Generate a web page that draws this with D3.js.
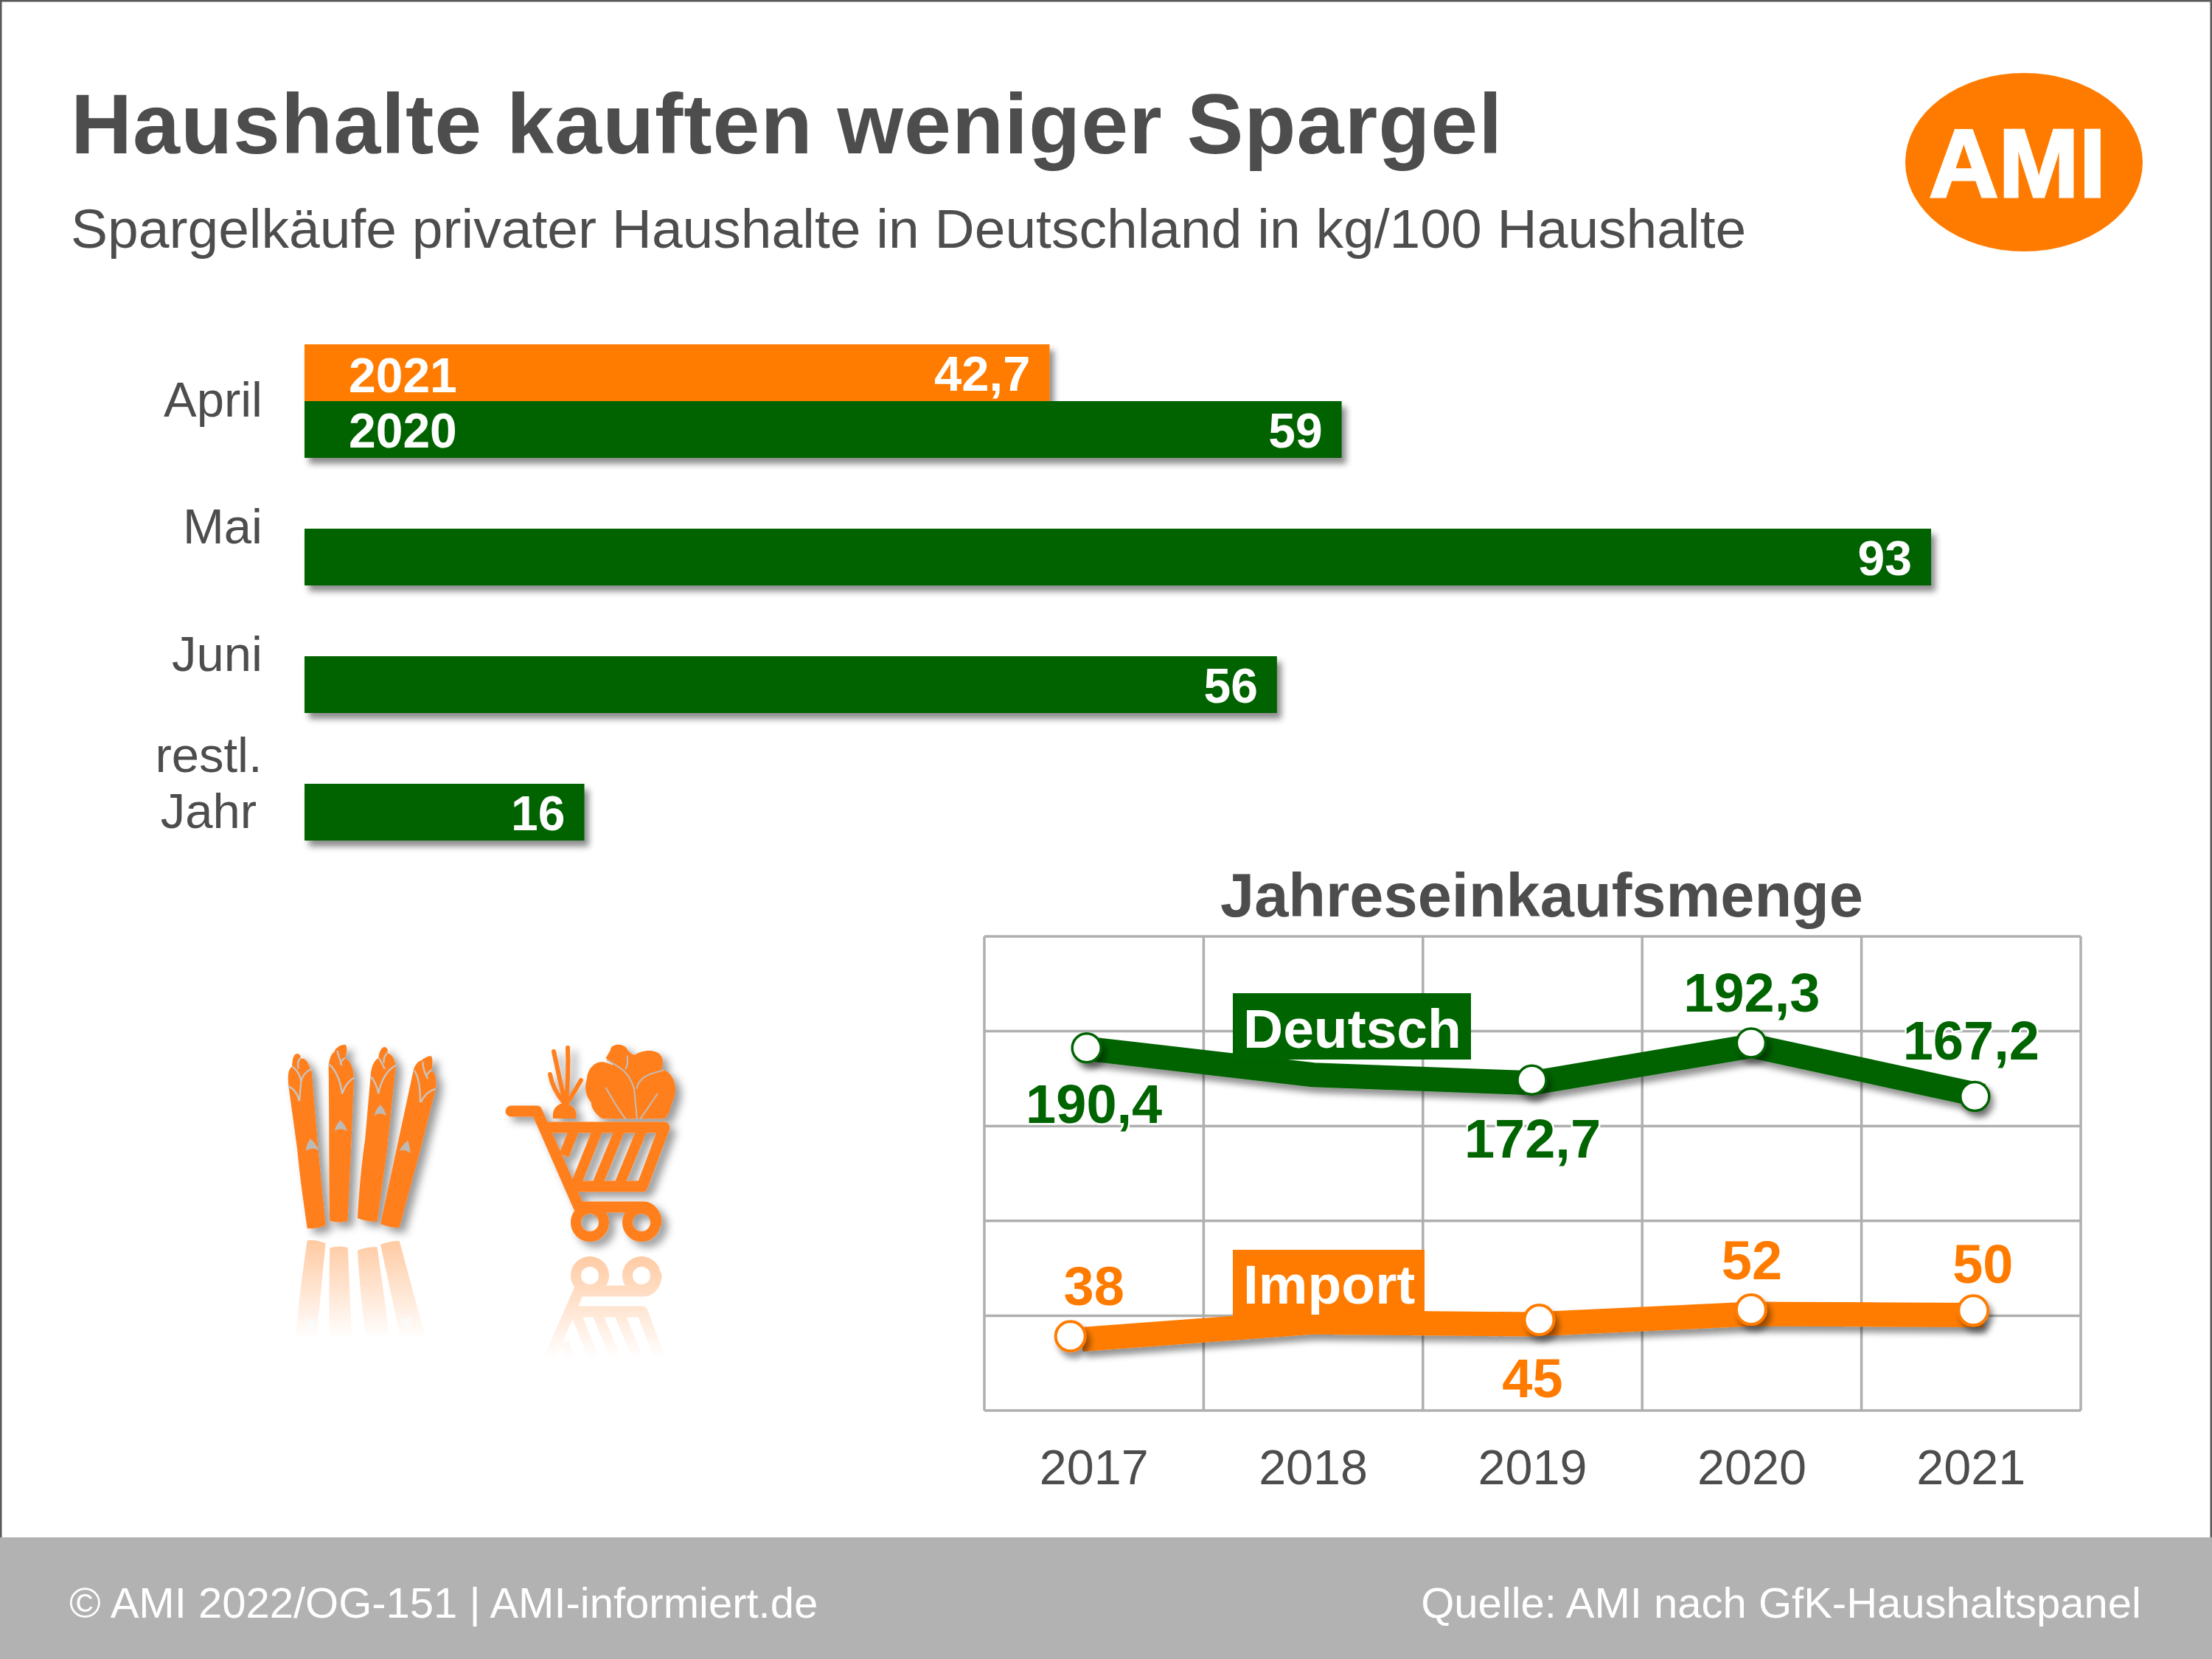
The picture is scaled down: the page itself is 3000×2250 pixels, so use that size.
<!DOCTYPE html>
<html>
<head>
<meta charset="utf-8">
<script src="https://cdn.jsdelivr.net/npm/d3@7"></script>
<style>
	body { margin: 0; background: #fff; }
	svg { display: block; }
	text { font-family: "Liberation Sans", Arial, sans-serif; fill: #4d4d4d; }
	.bold { font-weight: bold; }
</style>
</head>
<body>
<script>
// Data
const months = ["April", "Mai", "Juni", "restl. Jahr"];
// bar lengths, the printed labels are rounded
const values2020 = [59.3, 93, 55.6, 16];
const labels2020 = ["59", "93", "56", "16"];
const values2021 = [42.6];
const labels2021 = ["42,7"];
const barYears = ["2021", "2020"];

const years = ["2017", "2018", "2019", "2020", "2021"];
const deutsch = [190.4, 177, 172.7, 192.3, 167.2];
const deutschLabels = ["190,4", null, "172,7", "192,3", "167,2"];
const importe = [38, 46.6, 45.5, 50.9, 50.4];
const importLabels = ["38", null, "45", "52", "50"];
const gridTicks = [0, 50, 100, 150, 200, 250];

const GREEN = "#006400", ORANGE = "#ff7b00", ICON = "#ff7f1f", GREY = "#4d4d4d", GRID = "#afafaf";

const svg = d3.select("body").append("svg").attr("width", 3000).attr("height", 2250);
const defs = svg.append("defs");

// Shadows, the region is the whole page because a bbox region would clip wide strokes
function shadow(id, dx, dy, blur, op) {
	defs.append("filter").attr("id", id)
		.attr("filterUnits", "userSpaceOnUse")
		.attr("x", 0).attr("y", 0).attr("width", 3000).attr("height", 2250)
		.append("feDropShadow")
		.attr("dx", dx).attr("dy", dy).attr("stdDeviation", blur)
		.attr("flood-color", "#000").attr("flood-opacity", op);
}
shadow("barShadow", 6, 8, 4, 0.45);
shadow("lineShadow", 5, 8, 4, 0.42);
shadow("iconShadow", 8, 7, 6, 0.4);

function fade(id, y0, y1) {
	const g = defs.append("linearGradient").attr("id", id + "Grad")
		.attr("gradientUnits", "userSpaceOnUse")
		.attr("x1", 0).attr("x2", 0).attr("y1", y0).attr("y2", y1);
	g.append("stop").attr("offset", 0).attr("stop-color", "#fff").attr("stop-opacity", 0.42);
	g.append("stop").attr("offset", 1).attr("stop-color", "#fff").attr("stop-opacity", 0);
	defs.append("mask").attr("id", id)
		.attr("maskUnits", "userSpaceOnUse")
		.attr("x", 300).attr("y", y0).attr("width", 700).attr("height", y1 - y0)
		.append("rect")
		.attr("x", 300).attr("y", y0).attr("width", 700).attr("height", y1 - y0)
		.attr("fill", `url(#${id}Grad)`);
}
fade("fadeSpargel", 1680, 1815);
fade("fadeCart", 1700, 1842);

// Frame, header, footer
svg.append("rect").attr("width", 3000).attr("height", 2250).attr("fill", "#fff");
svg.append("rect").attr("x", 1).attr("y", 1).attr("width", 2998).attr("height", 2248)
	.attr("fill", "none").attr("stroke", "#5a5a5a").attr("stroke-width", 3);

svg.append("text").attr("class", "bold").attr("x", 96).attr("y", 208)
	.attr("font-size", 115).attr("letter-spacing", 0.95).text("Haushalte kauften weniger Spargel");
svg.append("text").attr("x", 96).attr("y", 336)
	.attr("font-size", 75).text("Spargelkäufe privater Haushalte in Deutschland in kg/100 Haushalte");

svg.append("ellipse").attr("cx", 2745).attr("cy", 220).attr("rx", 161).attr("ry", 121).attr("fill", ORANGE);
svg.append("text").attr("class", "bold").attr("x", 2736).attr("y", 267)
	.attr("font-size", 131).attr("text-anchor", "middle")
	.style("fill", "#fff").style("stroke", "#fff").style("stroke-width", 3).text("AMI");

svg.append("rect").attr("x", 0).attr("y", 2085).attr("width", 3000).attr("height", 165).attr("fill", "#b2b2b2");
svg.append("text").attr("x", 94).attr("y", 2194).attr("font-size", 58).style("fill", "#fff")
	.text("© AMI 2022/OG-151 | AMI-informiert.de");
svg.append("text").attr("x", 2904).attr("y", 2194).attr("font-size", 58).attr("text-anchor", "end").style("fill", "#fff")
	.text("Quelle: AMI nach GfK-Haushaltspanel");

// Bars
const xBar = d3.scaleLinear().domain([0, 93]).range([413, 2619]);
const yBar = d3.scaleBand().domain(months).range([544, 1140]).paddingInner(96 / 173);
const barH = yBar.bandwidth();
const barG = svg.append("g");

barG.selectAll("rect.y2021").data(values2021).join("rect").attr("class", "y2021")
	.attr("x", xBar(0))
	.attr("y", (d, i) => yBar(months[i]) - barH)
	.attr("width", (d) => xBar(d) - xBar(0))
	.attr("height", barH)
	.attr("fill", ORANGE).attr("filter", "url(#barShadow)");

barG.selectAll("rect.y2020").data(values2020).join("rect").attr("class", "y2020")
	.attr("x", xBar(0))
	.attr("y", (d, i) => yBar(months[i]))
	.attr("width", (d) => xBar(d) - xBar(0))
	.attr("height", barH)
	.attr("fill", GREEN).attr("filter", "url(#barShadow)");

function barValue(cls, data, labels, dyOf, size) {
	barG.selectAll("text." + cls).data(data).join("text").attr("class", "bold " + cls)
		.attr("x", (d) => xBar(d) - 26)
		.attr("y", (d, i) => dyOf(i))
		.attr("text-anchor", "end").attr("font-size", size).style("fill", "#fff")
		.text((d, i) => labels[i]);
}
barValue("v2020", values2020, labels2020, (i) => yBar(months[i]) + 63, 66);
barValue("v2021", values2021, labels2021, (i) => yBar(months[i]) - barH + 63, 67);

barG.selectAll("text.yr").data(barYears).join("text").attr("class", "bold yr")
	.attr("x", 473)
	.attr("y", (d, i) => yBar(months[0]) - barH * (1 - i) + 65 - 2 * i)
	.attr("font-size", 66).style("fill", "#fff")
	.text((d) => d);

// Month labels sit near the top of each bar row
const monthDy = [21, 20, 20, 0];
barG.selectAll("text.month").data(months).join("text").attr("class", "month")
	.attr("font-size", 67)
	.each(function (d, i) {
		const t = d3.select(this), y = yBar(d) + monthDy[i];
		if (d.includes(" ")) {
			const parts = d.split(" ");
			t.append("tspan").attr("x", 283).attr("y", y - 16).attr("text-anchor", "middle").text(parts[0]);
			t.append("tspan").attr("x", 283).attr("y", y + 60).attr("text-anchor", "middle").text(parts[1]);
		} else {
			t.append("tspan").attr("x", 356).attr("y", y).attr("text-anchor", "end").text(d);
		}
	});

// Line chart
const xLine = d3.scaleBand().domain(years).range([1335, 2822]);
const yLine = d3.scaleLinear().domain([0, 250]).range([1913, 1270]);
const cx = (y) => xLine(y) + xLine.bandwidth() / 2;

svg.append("text").attr("class", "bold").attr("x", 2091).attr("y", 1243)
	.attr("font-size", 83).attr("text-anchor", "middle").text("Jahreseinkaufsmenge");

const grid = svg.append("g").attr("stroke", GRID).attr("stroke-width", 3.5).attr("fill", "none");
grid.selectAll("line.h").data(gridTicks).join("line").attr("class", "h")
	.attr("x1", 1335).attr("x2", 2822)
	.attr("y1", (d) => yLine(d)).attr("y2", (d) => yLine(d));
grid.selectAll("line.v").data(years.concat("end")).join("line").attr("class", "v")
	.attr("x1", (d) => d === "end" ? 2822 : xLine(d))
	.attr("x2", (d) => d === "end" ? 2822 : xLine(d))
	.attr("y1", 1270).attr("y2", 1913);

const yearAxis = svg.append("g").attr("transform", "translate(0,1913)")
	.call(d3.axisBottom(xLine).tickSize(0).tickPadding(0));
yearAxis.select(".domain").remove();
yearAxis.selectAll("text")
	.attr("font-size", 66.5).attr("font-family", null)
	.attr("dy", 0).attr("y", 100)
	.style("fill", GREY);

const line = d3.line().x((d, i) => cx(years[i])).y((d) => yLine(d)).curve(d3.curveLinear);

// Markers were hand placed in the original, they sit a bit off the line
const series = [
	{ name: "Deutsch", values: deutsch, labels: deutschLabels, color: GREEN, r: 19.5, rim: 3.5,
		nudge: [[-10, -2], null, [-1, -4], [-1, -4], [5, 4]],
		labelDy: [100, null, 101, -46, -46], labelDx: [0, null, 0, 0, 0],
		box: [1672, 1347, 323, 90], boxText: [1686, 1421] },
	{ name: "Import", values: importe, labels: importLabels, color: ORANGE, r: 20, rim: 4,
		nudge: [[-32, -3], null, [9, -6], [-1, -6], [3, -6]],
		labelDy: [-45, null, 99, -47, -43], labelDx: [0, null, 0, 0, 16],
		box: [1672, 1695, 260, 95], boxText: [1686, 1768] }
];

series.forEach((s) => {
	const g = svg.append("g");
	g.append("path").attr("d", line(s.values))
		.attr("fill", "none").attr("stroke", s.color).attr("stroke-width", 33)
		.attr("stroke-linejoin", "bevel").attr("stroke-linecap", "square")
		.attr("filter", "url(#lineShadow)");

	g.append("rect").attr("x", s.box[0]).attr("y", s.box[1]).attr("width", s.box[2]).attr("height", s.box[3]).attr("fill", s.color);
	g.append("text").attr("class", "bold").attr("x", s.boxText[0]).attr("y", s.boxText[1])
		.attr("font-size", 75).style("fill", "#fff").text(s.name);

	const idx = s.values.map((d, i) => i).filter((i) => s.nudge[i]);
	g.selectAll("circle").data(idx).join("circle")
		.attr("cx", (i) => cx(years[i]) + s.nudge[i][0])
		.attr("cy", (i) => yLine(s.values[i]) + s.nudge[i][1])
		.attr("r", s.r)
		.attr("fill", "#fff").attr("stroke", s.color).attr("stroke-width", s.rim)
		.attr("filter", "url(#lineShadow)");

	g.selectAll("text.val").data(idx).join("text").attr("class", "bold val")
		.attr("x", (i) => cx(years[i]) + s.labelDx[i])
		.attr("y", (i) => yLine(s.values[i]) + s.labelDy[i])
		.attr("text-anchor", "middle").attr("font-size", 74)
		.style("fill", s.color)
		.style("stroke", "#fff").style("stroke-width", 5).style("paint-order", "stroke")
		.text((i) => s.labels[i]);
});

// Icons, drawn in crop units at a third of a pixel
const spargel = defs.append("g").attr("id", "spargel");
const spears = [
	"M140 797C125 690 110 590 100 480L65 225C60 190 60 150 78 140C80 120 80 90 98 87C112 88 115 100 113 108C130 100 148 125 152 152L158 160L185 480L215 785Q175 802 140 797Z",
	"M232 767C228 600 230 350 227 135C232 100 240 85 250 80C252 65 275 50 295 50C305 60 302 90 293 105C315 110 330 150 330 190L318 480L305 768Q270 778 232 767Z",
	"M345 757C350 650 365 500 375 440L397 190C398 150 408 115 430 105C432 85 440 60 455 60C468 62 470 75 465 85C485 85 498 115 500 140L465 480L425 770Q385 772 345 757Z",
	"M438 780L570 165C575 135 590 118 605 115C615 105 630 97 645 97C652 110 650 135 645 155C665 165 668 200 662 235L600 480L515 795Q475 795 438 780Z"
];
const spearNicks = [
	"M152 433Q175 450 185 480Q160 465 135 483Q135 460 152 433Z",
	"M275 358Q295 375 302 402Q275 385 252 402Q255 378 275 358Z",
	"M437 295Q455 312 462 340Q435 322 413 340Q418 315 437 295Z",
	"M550 440Q558 465 560 492Q540 475 515 482Q530 455 550 440Z"
];
const spearHeads = [
	"M63 220C85 228 100 250 108 280M80 140C100 155 112 175 115 200M155 150C135 160 120 175 115 200L108 280M113 105C100 115 100 130 105 148",
	"M227 130C250 145 275 190 282 250M330 185C305 200 290 225 282 250M262 75C265 95 275 110 280 135M293 105C282 110 275 125 275 130",
	"M397 180C410 190 425 220 430 250M500 135C470 150 440 190 430 250M432 105C440 120 450 135 455 150M465 85C455 95 450 110 452 125",
	"M575 155C590 175 600 220 600 285M662 230C635 240 612 260 603 285M610 120C610 140 620 170 630 190M645 155C635 160 628 170 625 180"
];
const sg = spargel.append("g").attr("transform", "translate(370,1400) scale(0.3333)");
sg.selectAll("path.s").data(spears).join("path").attr("class", "s").attr("d", (d) => d).attr("fill", ICON);
sg.selectAll("path.n").data(spearNicks).join("path").attr("class", "n").attr("d", (d) => d).attr("fill", "#bdbab6");
sg.selectAll("path.h").data(spearHeads).join("path").attr("class", "h").attr("d", (d) => d)
	.attr("fill", "none").attr("stroke", "#c9c5c0").attr("stroke-width", 7);

const cart = defs.append("g").attr("id", "cart");
const cg = cart.append("g").attr("fill", "none").attr("stroke", ICON).attr("stroke-width", 15)
	.attr("stroke-linecap", "round").attr("stroke-linejoin", "round");
cg.append("path").attr("d", "M693 1507H728L785 1637H873C883 1637 890 1648 890 1658");
cg.append("path").attr("d", "M738 1529H901L871 1609H775");
cg.selectAll("path.slat").data([
	"M780 1529L765 1567", "M812 1529L780 1609", "M842 1529L809 1609", "M872 1529L839 1609"
]).join("path").attr("class", "slat").attr("d", (d) => d).attr("stroke-linecap", "butt").attr("stroke-width", 14);
cg.selectAll("circle").data([800, 870]).join("circle")
	.attr("cx", (d) => d).attr("cy", 1658).attr("r", 19).attr("stroke-width", 14);
cg.append("path").attr("d", "M766 1495L751 1426M768 1495C770 1470 771 1445 770 1421M766 1497C756 1485 748 1470 746 1457M768 1497C775 1488 782 1475 788 1465")
	.attr("stroke-width", 6);
cart.append("path").attr("d", "M750 1517C748 1505 755 1497 765 1496C775 1497 784 1505 781 1517Z").attr("fill", ICON);

const leaf = cart.append("g").attr("transform", "translate(660,1400) scale(0.3333)");
leaf.append("path").attr("fill", ICON)
	.attr("d", "M485 105C495 85 505 75 505 65C515 45 555 45 570 65C578 80 590 90 603 92C625 75 680 65 705 90C720 105 720 135 710 150C745 155 770 195 768 235C768 265 750 290 745 320C735 340 728 352 715 352L470 352C445 335 425 310 425 285C405 265 395 225 408 190C410 150 440 115 480 122C495 125 505 130 515 135C510 120 495 115 485 105Z");
leaf.append("path").attr("d", "M488 112C540 140 580 160 600 230L612 352M572 95C575 120 575 135 565 150M720 155C670 165 620 180 610 230M485 225C510 270 540 320 565 352M695 250C670 290 640 330 625 352")
	.attr("fill", "none").attr("stroke", "#c4bdb6").attr("stroke-width", 6);

function icon(id, axis, maskId) {
	svg.append("g").attr("mask", `url(#${maskId})`)
		.append("use").attr("href", "#" + id)
		.attr("transform", `translate(0,${2 * axis}) scale(1,-1)`);
	svg.append("use").attr("href", "#" + id).attr("filter", "url(#iconShadow)");
}
icon("spargel", 1674, "fadeSpargel");
icon("cart", 1694, "fadeCart");
</script>
</body>
</html>
